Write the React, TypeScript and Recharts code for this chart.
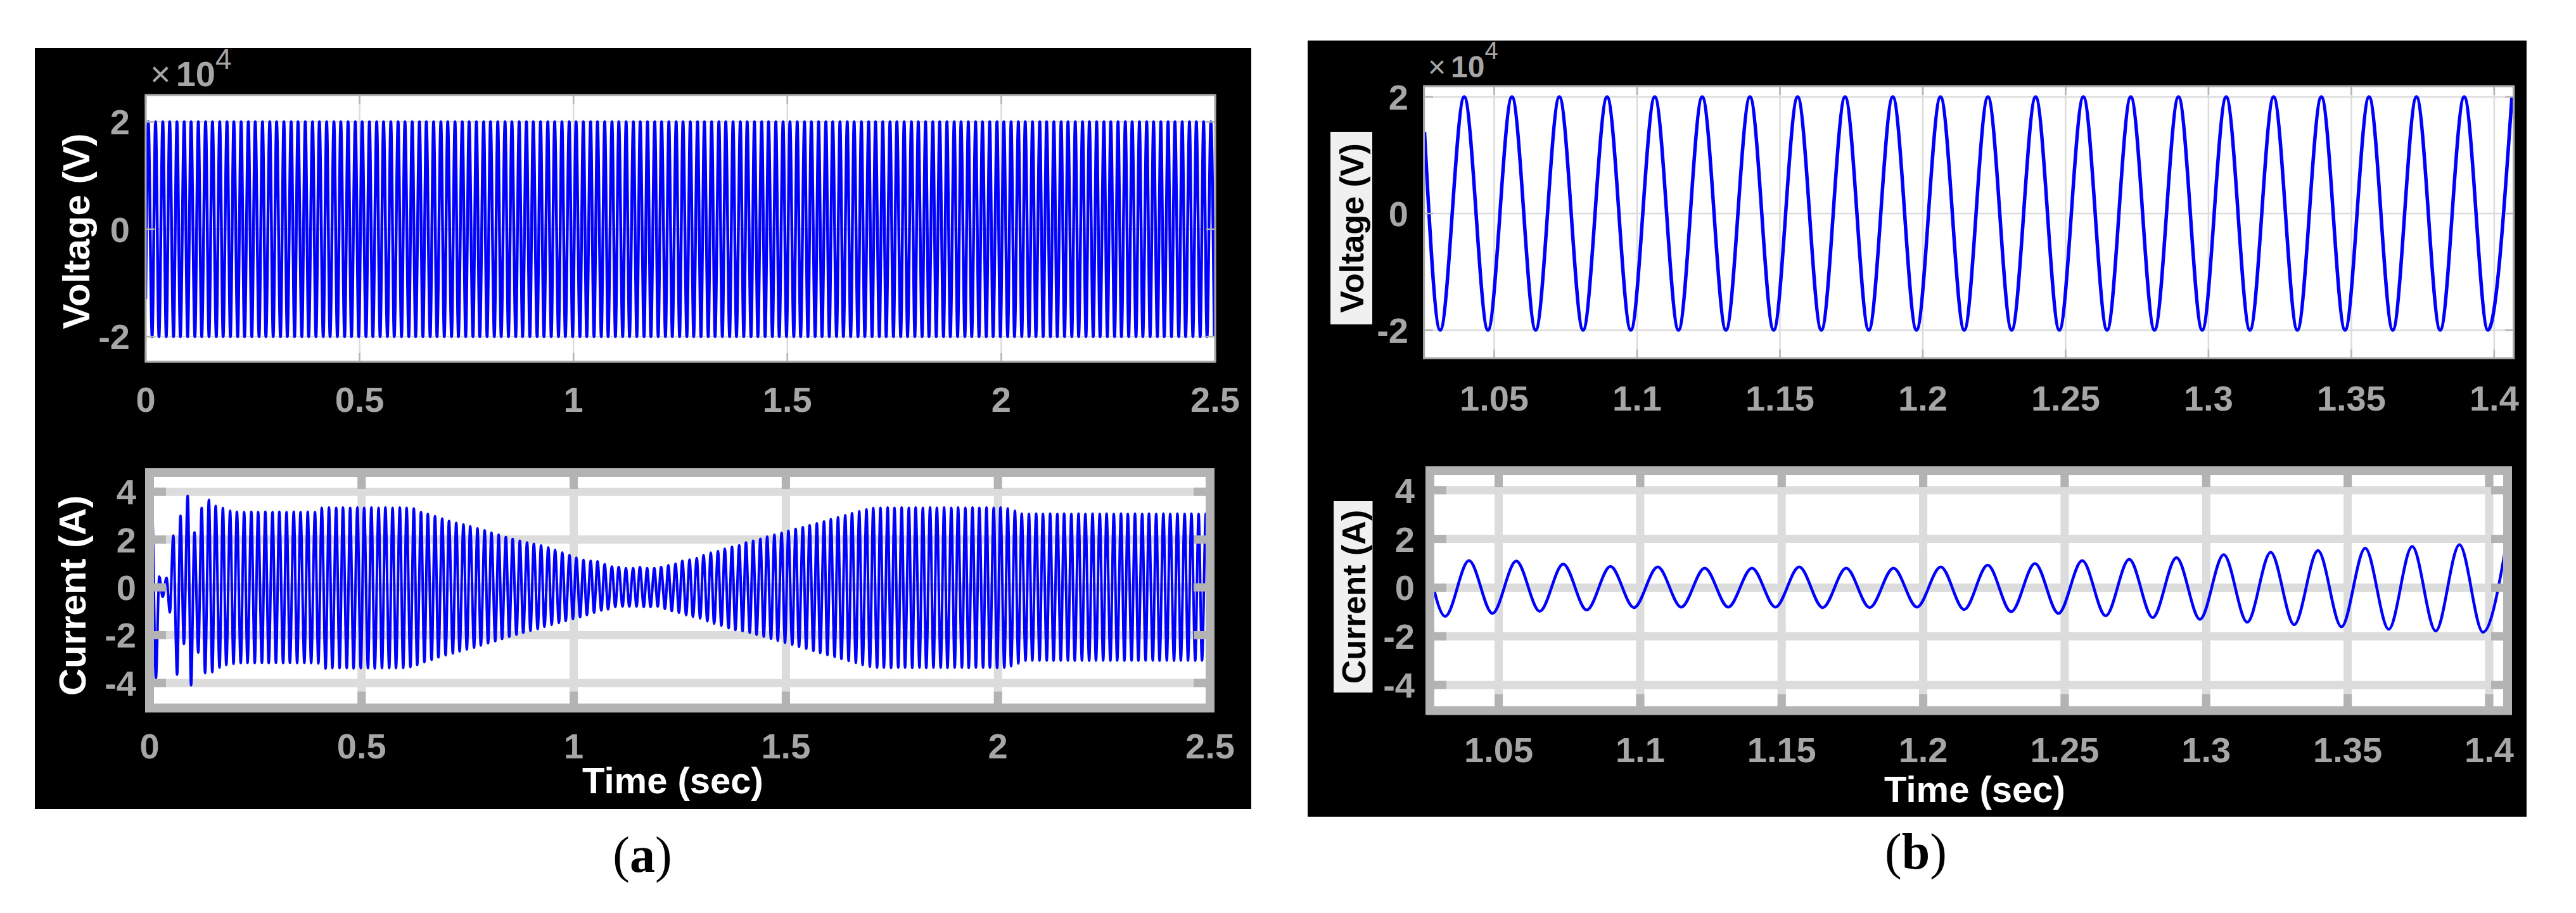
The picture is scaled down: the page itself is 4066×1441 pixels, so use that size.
import React from 'react';
import { LineChart, Line, XAxis, YAxis, CartesianGrid } from 'recharts';

const FONT = 'Arial, "Liberation Sans", Helvetica, sans-serif';
const SERIF = '"Times New Roman", "Liberation Serif", serif';
const TICK_GRAY = '#a6a6a6';
const BLUE = '#0000ff';

// (a) whole run, 0 - 2.5 s. One extremum every half cycle: peak, trough, peak, trough ...
const aTimes = [
  0.006, 0.015, 0.023, 0.031, 0.040, 0.048,
  0.056, 0.065, 0.073, 0.081, 0.090, 0.098,
  0.106, 0.115, 0.123, 0.131, 0.140, 0.148,
  0.156, 0.165, 0.173, 0.181, 0.190, 0.198,
  0.206, 0.215, 0.223, 0.231, 0.240, 0.248,
  0.256, 0.265, 0.273, 0.281, 0.290, 0.298,
  0.306, 0.315, 0.323, 0.331, 0.340, 0.348,
  0.356, 0.365, 0.373, 0.381, 0.390, 0.398,
  0.406, 0.415, 0.423, 0.431, 0.440, 0.448,
  0.456, 0.465, 0.473, 0.481, 0.490, 0.498,
  0.506, 0.515, 0.523, 0.531, 0.540, 0.548,
  0.556, 0.565, 0.573, 0.581, 0.590, 0.598,
  0.606, 0.615, 0.623, 0.631, 0.640, 0.648,
  0.656, 0.665, 0.673, 0.681, 0.690, 0.698,
  0.706, 0.715, 0.723, 0.731, 0.740, 0.748,
  0.756, 0.765, 0.773, 0.781, 0.790, 0.798,
  0.806, 0.815, 0.823, 0.831, 0.840, 0.848,
  0.856, 0.865, 0.873, 0.881, 0.890, 0.898,
  0.906, 0.915, 0.923, 0.931, 0.940, 0.948,
  0.956, 0.965, 0.973, 0.981, 0.990, 0.998,
  1.006, 1.015, 1.023, 1.031, 1.040, 1.048,
  1.056, 1.065, 1.073, 1.081, 1.090, 1.098,
  1.106, 1.115, 1.123, 1.131, 1.140, 1.148,
  1.156, 1.165, 1.173, 1.181, 1.190, 1.198,
  1.206, 1.215, 1.223, 1.231, 1.240, 1.248,
  1.256, 1.265, 1.273, 1.281, 1.290, 1.298,
  1.306, 1.315, 1.323, 1.331, 1.340, 1.348,
  1.356, 1.365, 1.373, 1.381, 1.390, 1.398,
  1.406, 1.415, 1.423, 1.431, 1.440, 1.448,
  1.456, 1.465, 1.473, 1.481, 1.490, 1.498,
  1.506, 1.515, 1.523, 1.531, 1.540, 1.548,
  1.556, 1.565, 1.573, 1.581, 1.590, 1.598,
  1.606, 1.615, 1.623, 1.631, 1.640, 1.648,
  1.656, 1.665, 1.673, 1.681, 1.690, 1.698,
  1.706, 1.715, 1.723, 1.731, 1.740, 1.748,
  1.756, 1.765, 1.773, 1.781, 1.790, 1.798,
  1.806, 1.815, 1.823, 1.831, 1.840, 1.848,
  1.856, 1.865, 1.873, 1.881, 1.890, 1.898,
  1.906, 1.915, 1.923, 1.931, 1.940, 1.948,
  1.956, 1.965, 1.973, 1.981, 1.990, 1.998,
  2.006, 2.015, 2.023, 2.031, 2.040, 2.048,
  2.056, 2.065, 2.073, 2.081, 2.090, 2.098,
  2.106, 2.115, 2.123, 2.131, 2.140, 2.148,
  2.156, 2.165, 2.173, 2.181, 2.190, 2.198,
  2.206, 2.215, 2.223, 2.231, 2.240, 2.248,
  2.256, 2.265, 2.273, 2.281, 2.290, 2.298,
  2.306, 2.315, 2.323, 2.331, 2.340, 2.348,
  2.356, 2.365, 2.373, 2.381, 2.390, 2.398,
  2.406, 2.415, 2.423, 2.431, 2.440, 2.448,
  2.456, 2.465, 2.473, 2.481, 2.490, 2.498,
];
const aVoltStart = -13000;
const aVoltPeak = 20000; // every peak/trough sits on the +-2 x10^4 grid line
const aCurrent = [
  3.2, -3.8, 0.45, -0.4, 0.4, -1.05,
  2.17, -3.65, 3.0, -2.37, 3.83, -4.1,
  2.3, -2.73, 3.33, -3.59, 3.66, -3.55,
  3.41, -3.36, 3.32, -3.25, 3.2, -3.2,
  3.16, -3.17, 3.15, -3.16, 3.16, -3.17,
  3.15, -3.16, 3.16, -3.17, 3.15, -3.16,
  3.16, -3.17, 3.15, -3.16, 3.16, -3.17,
  3.15, -3.16, 3.16, -3.17, 3.15, -3.18,
  3.33, -3.40, 3.34, -3.38, 3.33, -3.38,
  3.34, -3.38, 3.33, -3.39, 3.34, -3.38,
  3.33, -3.38, 3.34, -3.39, 3.33, -3.38,
  3.34, -3.38, 3.33, -3.38, 3.34, -3.37,
  3.33, -3.33, 3.30, -3.25, 3.15, -3.13,
  3.07, -3.03, 2.98, -2.93, 2.88, -2.84,
  2.78, -2.76, 2.70, -2.68, 2.63, -2.60,
  2.55, -2.52, 2.47, -2.43, 2.39, -2.34,
  2.29, -2.25, 2.20, -2.16, 2.11, -2.07,
  2.02, -1.98, 1.95, -1.90, 1.88, -1.82,
  1.82, -1.74, 1.75, -1.65, 1.67, -1.57,
  1.57, -1.49, 1.46, -1.41, 1.35, -1.33,
  1.24, -1.25, 1.15, -1.16, 1.11, -1.06,
  1.09, -0.97, 0.97, -0.92, 0.87, -0.82,
  0.85, -0.80, 0.80, -0.80, 0.80, -0.80,
  0.85, -0.82, 0.80, -0.82, 0.80, -0.80,
  0.85, -0.90, 0.92, -0.99, 0.99, -1.06,
  1.11, -1.16, 1.16, -1.23, 1.23, -1.30,
  1.35, -1.42, 1.45, -1.52, 1.52, -1.61,
  1.62, -1.71, 1.69, -1.78, 1.76, -1.83,
  1.88, -1.90, 1.95, -1.98, 2.03, -2.06,
  2.12, -2.15, 2.20, -2.23, 2.28, -2.32,
  2.37, -2.40, 2.45, -2.49, 2.52, -2.57,
  2.60, -2.66, 2.68, -2.74, 2.76, -2.83,
  2.85, -2.91, 2.93, -3.00, 3.02, -3.08,
  3.10, -3.16, 3.18, -3.25, 3.26, -3.32,
  3.32, -3.36, 3.33, -3.36, 3.34, -3.37,
  3.33, -3.36, 3.34, -3.36, 3.33, -3.37,
  3.34, -3.36, 3.33, -3.37, 3.34, -3.36,
  3.33, -3.36, 3.34, -3.37, 3.33, -3.36,
  3.34, -3.36, 3.33, -3.37, 3.34, -3.36,
  3.33, -3.36, 3.34, -3.36, 3.33, -3.37,
  3.34, -3.36, 3.30, -3.30, 3.20, -3.18,
  3.08, -3.07, 3.07, -3.06, 3.08, -3.06,
  3.07, -3.06, 3.08, -3.07, 3.07, -3.06,
  3.08, -3.06, 3.07, -3.07, 3.08, -3.06,
  3.07, -3.07, 3.08, -3.06, 3.07, -3.06,
  3.08, -3.07, 3.07, -3.06, 3.08, -3.07,
  3.07, -3.06, 3.08, -3.07, 3.07, -3.06,
  3.08, -3.06, 3.07, -3.07, 3.08, -3.06,
  3.07, -3.07, 3.08, -3.06, 3.07, -3.06,
  3.08, -3.07, 3.07, -3.06, 3.08, -3.07,
];

// (b) zoom on 1.026 - 1.407 s. Extrema: trough, peak, trough, peak ...
const bStartT = 1.0256;
const bTimes = [
  1.0311, 1.0395, 1.0478, 1.0562, 1.0645, 1.0728, 1.0811, 1.0895,
  1.0978, 1.1062, 1.1145, 1.1228, 1.1311, 1.1395, 1.1478, 1.1562,
  1.1645, 1.1728, 1.1811, 1.1895, 1.1978, 1.2062, 1.2145, 1.2228,
  1.2311, 1.2395, 1.2478, 1.2562, 1.2645, 1.2728, 1.2811, 1.2895,
  1.2978, 1.3062, 1.3145, 1.3228, 1.3311, 1.3395, 1.3478, 1.3562,
  1.3645, 1.3728, 1.3811, 1.3895, 1.3978, 1.4062,
];
const bVoltStart = 14000;
const bCurStart = 0.68;
const bCurrent = [
  -1.18, 1.11, -1.06, 1.09, -0.97, 0.97, -0.92, 0.87,
  -0.82, 0.85, -0.80, 0.80, -0.80, 0.80, -0.80, 0.85,
  -0.82, 0.80, -0.82, 0.80, -0.80, 0.85, -0.90, 0.92,
  -0.99, 0.99, -1.06, 1.11, -1.16, 1.16, -1.23, 1.23,
  -1.30, 1.35, -1.42, 1.45, -1.52, 1.52, -1.61, 1.62,
  -1.71, 1.69, -1.78, 1.76, -1.83, 1.88,
];

const aTicks = [0, 0.5, 1, 1.5, 2, 2.5];
const bTicks = [1.05, 1.1, 1.15, 1.2, 1.25, 1.3, 1.35, 1.4];
const voltTicks = [-20000, 0, 20000];
const curTicks = [-4, -2, 0, 2, 4];

const aVoltData = [{ t: 0, v: aVoltStart }, ...aTimes.map((t, i) => ({ t, v: i % 2 === 0 ? aVoltPeak : -aVoltPeak }))];
const aCurData = [{ t: 0, v: 0 }, ...aTimes.map((t, i) => ({ t, v: aCurrent[i] }))];
const bVoltData = [{ t: bStartT, v: bVoltStart }, ...bTimes.map((t, i) => ({ t, v: i % 2 === 0 ? -aVoltPeak : aVoltPeak }))];
const bCurData = [{ t: bStartT, v: bCurStart }, ...bTimes.map((t, i) => ({ t, v: bCurrent[i] }))];

// plot rectangles on the page: [left, top, right, bottom]
const BOX_AV = [230, 150, 1918, 571];
const BOX_AI = [236, 746, 1910, 1117.5];
const BOX_BV = [2247.6, 136, 3967.6, 565.6];
const BOX_BI = [2257, 743, 3958, 1121.5];

const PAD_L = 160;
const PAD_T = 30;
const PAD_R = 40;
const PAD_B = 110;

const Scope = ({ box, data, xDomain, yDomain, xTicks, yTicks, yFmt, heavy, xLabelOff, yLabelGap, lineWidth }) => {
  const [left, top, right, bottom] = box;
  const w = right - left;
  const h = bottom - top;
  const markW = heavy ? 13 : 2.5;
  const markLen = heavy ? 26 : 14;
  const markColor = heavy ? '#b3b3b3' : '#b4b4b4';

  const xTick = (p) => {
    const { x, y, payload } = p;
    return (
      <g>
        <rect x={x - markW / 2} y={y - h} width={markW} height={markLen} fill={markColor} />
        <rect x={x - markW / 2} y={y - markLen} width={markW} height={markLen} fill={markColor} />
        <text x={x} y={y + xLabelOff + 20} textAnchor="middle" fill={TICK_GRAY} fontSize={56} fontWeight="bold" fontFamily={FONT}>
          {String(payload.value)}
        </text>
      </g>
    );
  };

  const yTick = (p) => {
    const { x, y, payload } = p;
    return (
      <g>
        <rect x={x} y={y - markW / 2} width={markLen} height={markW} fill={markColor} />
        <rect x={x + w - markLen} y={y - markW / 2} width={markLen} height={markW} fill={markColor} />
        <text x={x - yLabelGap} y={y + 20} textAnchor="end" fill={TICK_GRAY} fontSize={56} fontWeight="bold" fontFamily={FONT}>
          {yFmt(payload.value)}
        </text>
      </g>
    );
  };

  return (
    <div style={{ position: 'absolute', left: left - PAD_L, top: top - PAD_T }}>
      <LineChart
        width={w + PAD_L + PAD_R}
        height={h + PAD_T + PAD_B}
        data={data}
        margin={{ top: PAD_T, right: PAD_R, bottom: 0, left: 0 }}
      >
        <CartesianGrid fill="#ffffff" stroke="#dcdcdc" strokeWidth={heavy ? 13 : 2.5} />
        <XAxis
          dataKey="t"
          type="number"
          domain={xDomain}
          ticks={xTicks}
          allowDataOverflow
          interval={0}
          height={PAD_B}
          tickSize={0}
          tickMargin={0}
          axisLine={false}
          tick={xTick}
        />
        <YAxis
          type="number"
          domain={yDomain}
          ticks={yTicks}
          allowDataOverflow
          interval={0}
          width={PAD_L}
          tickSize={0}
          tickMargin={0}
          axisLine={false}
          tick={yTick}
        />
        <Line dataKey="v" type="monotone" stroke={BLUE} strokeWidth={lineWidth} dot={false} isAnimationActive={false} />
      </LineChart>
    </div>
  );
};

const frame = (box, heavy) => {
  const [l, t, r, b] = box;
  return (
    <rect x={l} y={t} width={r - l} height={b - t} fill="none" stroke={heavy ? '#b3b3b3' : '#a8a8a8'} strokeWidth={heavy ? 14 : 3} />
  );
};

const fmtVolt = (v) => String(v / 10000);
const fmtCur = (v) => String(v);

export default function App() {
  return (
    <div style={{ position: 'absolute', left: 0, top: 0, width: 4066, height: 1441, background: '#ffffff', overflow: 'hidden' }}>
      <div style={{ position: 'absolute', left: 55, top: 76, width: 1920, height: 1201, background: '#000' }} />
      <div style={{ position: 'absolute', left: 2064, top: 64, width: 1924, height: 1225, background: '#000' }} />

      <Scope box={BOX_AV} data={aVoltData} xDomain={[0, 2.5]} yDomain={[-24700, 25000]} xTicks={aTicks} yTicks={voltTicks}
        yFmt={fmtVolt} heavy={false} xLabelOff={59} yLabelGap={25} lineWidth={4.5} />
      <Scope box={BOX_AI} data={aCurData} xDomain={[0, 2.5]} yDomain={[-5.05, 4.8]} xTicks={aTicks} yTicks={curTicks}
        yFmt={fmtCur} heavy xLabelOff={59.5} yLabelGap={21} lineWidth={4} />
      <Scope box={BOX_BV} data={bVoltData} xDomain={[1.0255, 1.4069]} yDomain={[-24850, 21850]} xTicks={bTicks} yTicks={voltTicks}
        yFmt={fmtVolt} heavy={false} xLabelOff={62} yLabelGap={25} lineWidth={5.5} />
      <Scope box={BOX_BI} data={bCurData} xDomain={[1.0257, 1.4065]} yDomain={[-5.05, 4.8]} xTicks={bTicks} yTicks={curTicks}
        yFmt={fmtCur} heavy xLabelOff={61.5} yLabelGap={24} lineWidth={4.5} />

      <svg width={4066} height={1441} style={{ position: 'absolute', left: 0, top: 0, pointerEvents: 'none' }}>
        {frame(BOX_AV, false)}
        {frame(BOX_AI, true)}
        {frame(BOX_BV, false)}
        {frame(BOX_BI, true)}

        <text x={237} y={136} fill={TICK_GRAY} fontFamily={FONT} fontSize={56}>
          ×<tspan dx={8} fontWeight="bold">10</tspan><tspan dy={-27} fontSize={46}>4</tspan>
        </text>
        <text x={2254} y={122} fill={TICK_GRAY} fontFamily={FONT} fontSize={48}>
          ×<tspan dx={8} fontWeight="bold">10</tspan><tspan dy={-29} fontSize={38}>4</tspan>
        </text>

        <text transform="translate(141,365) rotate(-90)" textAnchor="middle" fill="#ffffff" fontFamily={FONT} fontWeight="bold" fontSize={60}>
          Voltage (V)
        </text>
        <text transform="translate(135,940) rotate(-90)" textAnchor="middle" fill="#ffffff" fontFamily={FONT} fontWeight="bold" fontSize={60}>
          Current (A)
        </text>

        <rect x={2100} y={208} width={66} height={304} fill="#f0f0f0" />
        <text transform="translate(2152,360) rotate(-90)" textAnchor="middle" fill="#000000" fontFamily={FONT} fontWeight="bold" fontSize={52}>
          Voltage (V)
        </text>
        <rect x={2105} y={791} width={61.5} height={302} fill="#f0f0f0" />
        <text transform="translate(2155,942) rotate(-90)" textAnchor="middle" fill="#000000" fontFamily={FONT} fontWeight="bold" fontSize={52}>
          Current (A)
        </text>

        <text x={1062} y={1252} textAnchor="middle" fill="#ffffff" fontFamily={FONT} fontWeight="bold" fontSize={58}>Time (sec)</text>
        <text x={3117} y={1266} textAnchor="middle" fill="#ffffff" fontFamily={FONT} fontWeight="bold" fontSize={58}>Time (sec)</text>

        <text x={1014} y={1376} textAnchor="middle" fill="#000000" fontFamily={SERIF} fontSize={80}>
          (<tspan fontWeight="bold">a</tspan>)
        </text>
        <text x={3024} y={1371} textAnchor="middle" fill="#000000" fontFamily={SERIF} fontSize={80}>
          (<tspan fontWeight="bold">b</tspan>)
        </text>
      </svg>
    </div>
  );
}
